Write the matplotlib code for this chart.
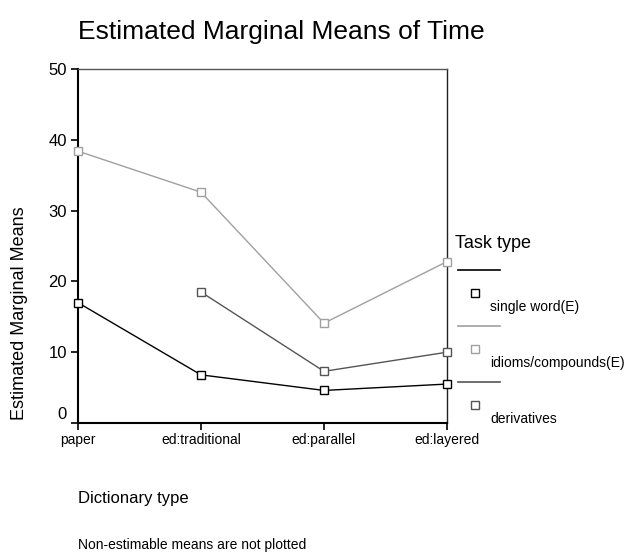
import matplotlib
matplotlib.use("Agg")
import matplotlib.pyplot as plt
import matplotlib.transforms as mtransforms
import numpy as np

plt.rcParams['font.family'] = ['Liberation Sans Narrow', 'Liberation Sans', 'DejaVu Sans']

# data
dict_types = ['paper', 'ed:traditional', 'ed:parallel', 'ed:layered']
single_word = [17.0, 6.8, 4.6, 5.5]
idioms = [38.4, 32.6, 14.1, 22.8]
derivatives = [np.nan, 18.5, 7.3, 10.0]
series_names = ['single word(E)', 'idioms/compounds(E)', 'derivatives']
series_colors = ['#000000', '#a0a0a0', '#555555']

fig = plt.figure(figsize=(6.36, 5.54), dpi=100)
W, H = 636, 554
# axes box in pixels: left 78, right 447, top 69, bottom 423
ax = fig.add_axes([78 / W, 1 - 423 / H, (447 - 78) / W, (423 - 69) / H])

x = np.arange(len(dict_types))
for vals, col in zip([single_word, idioms, derivatives], series_colors):
    v = np.array(vals, dtype=float)
    ax.plot(x, v, color=col, lw=1.0, marker='s', ms=6, mfc='white',
            mec=col, mew=1.0, clip_on=False, zorder=3)

ax.set_xlim(0, 3)
ax.set_ylim(0, 50)
ax.set_xticks(x)
ax.set_xticklabels(dict_types, fontsize=10)
ax.set_yticks([0, 10, 20, 30, 40, 50])
ax.set_yticklabels(['0', '10', '20', '30', '40', '50'], fontsize=12)
ax.tick_params(direction='out', length=5, width=1.2, color='black')
ax.tick_params(axis='x', pad=2)
ax.tick_params(axis='y', pad=3)
# SPSS puts the zero label a bit above its tick
lab0 = ax.get_yticklabels()[0]
lab0.set_transform(lab0.get_transform() + mtransforms.ScaledTranslation(0, 10 / 100, fig.dpi_scale_trans))

for s in ['left', 'bottom']:
    ax.spines[s].set_linewidth(1.5)
    ax.spines[s].set_color('black')
ax.spines['top'].set_color('#555555')
ax.spines['top'].set_linewidth(1.0)
ax.spines['right'].set_color('#222222')
ax.spines['right'].set_linewidth(1.0)

fig.text(78 / W, 1 - 32 / H, 'Estimated Marginal Means of Time', fontsize=19,
         ha='left', va='center')
fig.text(20 / W, 1 - 313 / H, 'Estimated Marginal Means', fontsize=13,
         rotation=90, ha='center', va='center')
fig.text(78 / W, 1 - 498 / H, 'Dictionary type', fontsize=12, ha='left', va='center')
fig.text(78 / W, 1 - 545 / H, 'Non-estimable means are not plotted', fontsize=10,
         ha='left', va='center')

# legend drawn in SPSS style: line above, marker + label below
fig.text(455 / W, 1 - 243 / H, 'Task type', fontsize=13, ha='left', va='center')
for i, (name, col) in enumerate(zip(series_names, series_colors)):
    y_line = 270 + i * 56
    fig.add_artist(plt.Line2D([458 / W, 500 / W], [1 - y_line / H, 1 - y_line / H],
                              color=col, lw=1.2))
    fig.add_artist(plt.Line2D([475 / W], [1 - (y_line + 23) / H], marker='s', ms=6,
                              mfc='white', mec=col, mew=1.0, lw=0))
    fig.text(490 / W, 1 - (y_line + 37) / H, name, fontsize=10, ha='left', va='center')

fig.savefig('out.png', dpi=100)
